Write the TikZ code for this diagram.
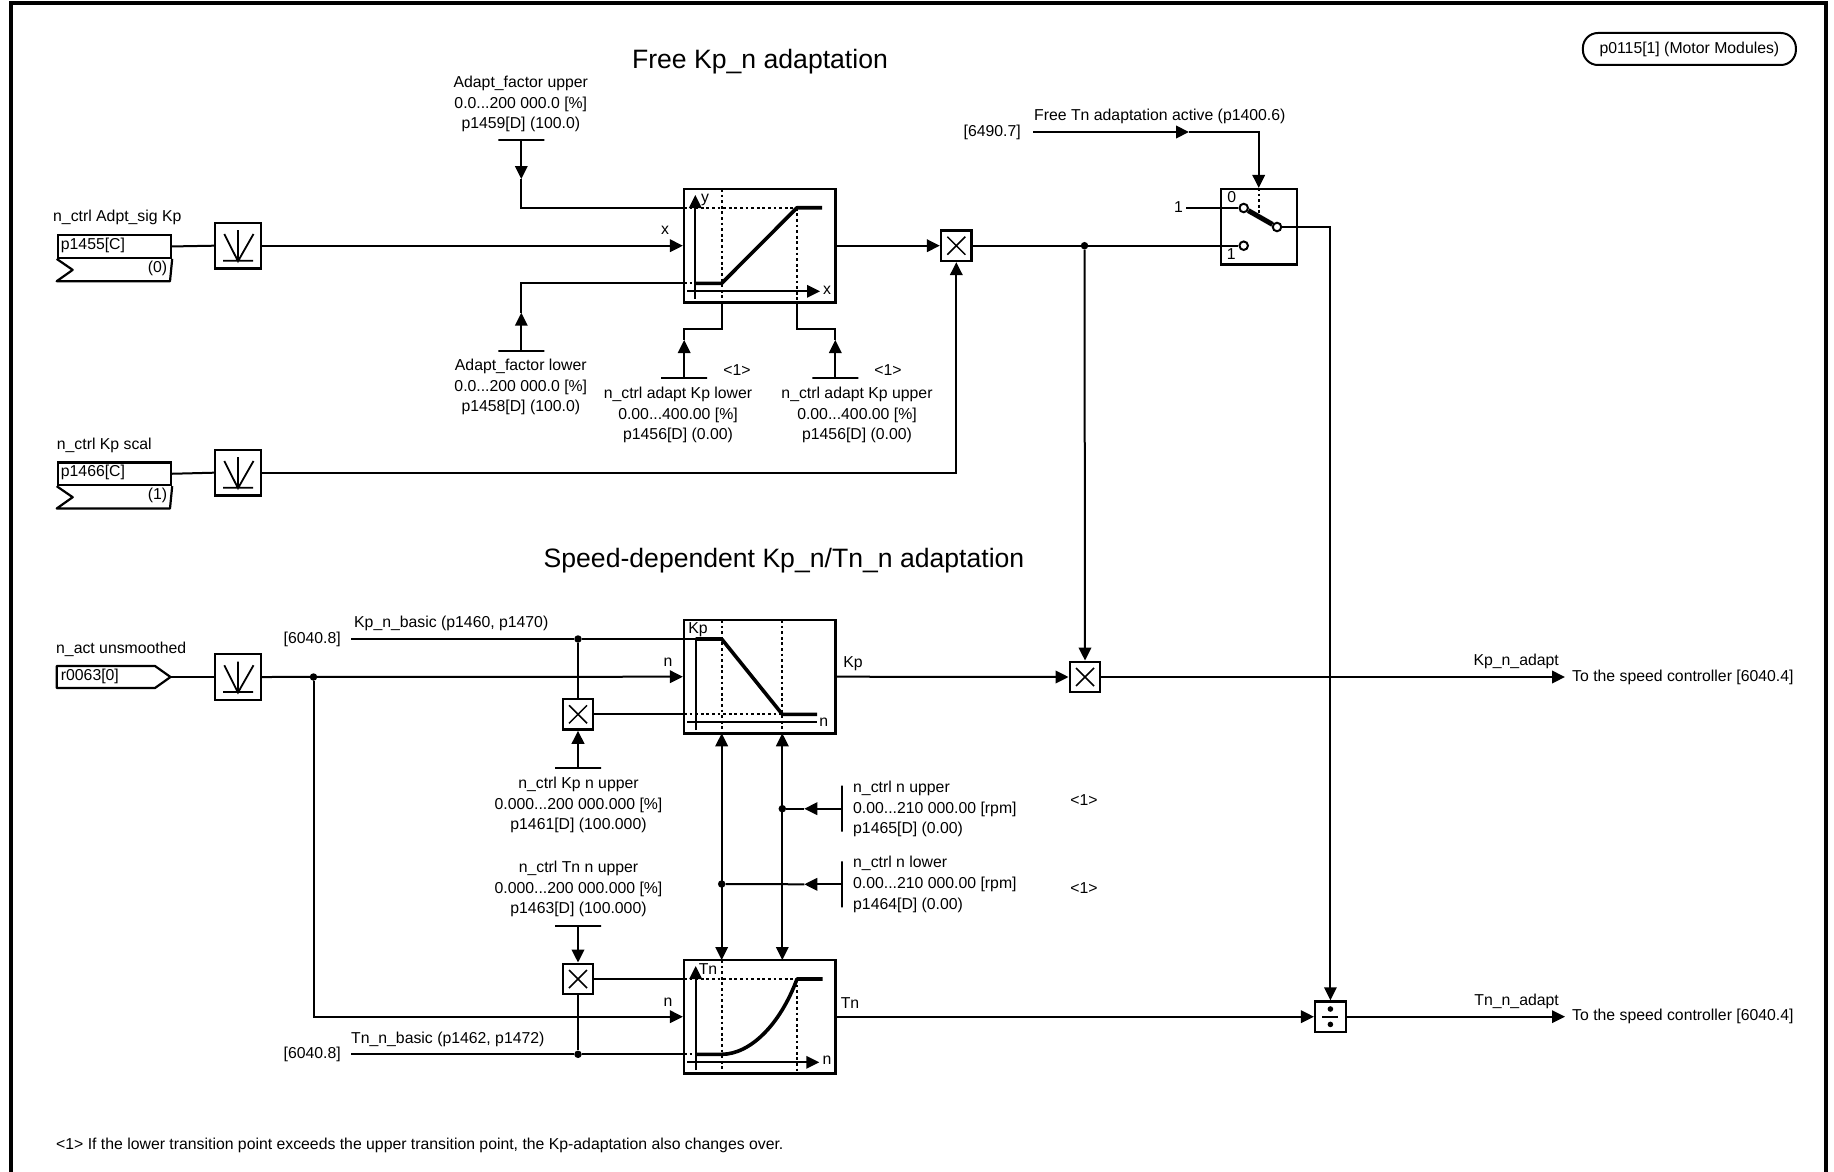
\documentclass[tikz,border=0pt]{standalone}
\usepackage{fontspec}
\setmainfont{Liberation Sans}
\usetikzlibrary{arrows.meta,positioning,calc}
\tikzset{
  lbl/.style={inner sep=0pt, font=\fontsize{15.8}{20.7}\selectfont, text height=11.6pt, text depth=3.4pt},
  stack/.style={inner sep=0pt, align=center, font=\fontsize{15.8}{20.7}\selectfont},
  titlelbl/.style={inner sep=0pt, font=\fontsize{26.6}{30}\selectfont},
  wire/.style={line width=2pt},
  arr/.style={-{Triangle[length=13pt,width=12.5pt]}, line width=2pt},
  dblarr/.style={{Triangle[length=13pt,width=12.5pt]}-{Triangle[length=13pt,width=12.5pt]}, line width=2pt},
  dots/.style={line width=2pt, dash pattern=on 2.8pt off 2.8pt},
  thickline/.style={line width=3.6pt, line join=round},
  fnbox/.style={draw, line width=2.3pt, minimum width=151.3pt, minimum height=113.3pt, inner sep=0pt},
  parbox/.style={draw, line width=2.2pt, minimum width=113.3pt, minimum height=22.7pt, inner sep=0pt},
  ampbox/.style={draw, line width=2.3pt, minimum width=45.7pt, minimum height=45.7pt, inner sep=0pt,
    path picture={\draw[line width=1.8pt]
      ([shift={(-13.7,-11.7)}]path picture bounding box.center) --
      ([shift={(0,15.5)}]path picture bounding box.center) --
      ([shift={(15.5,-11.7)}]path picture bounding box.center)
      ([shift={(0,-15.5)}]path picture bounding box.center) --
      ([shift={(0,15.5)}]path picture bounding box.center)
      ([shift={(-15,15)}]path picture bounding box.center) --
      ([shift={(15,15)}]path picture bounding box.center);}},
  multbox/.style={draw, line width=2.3pt, minimum size=30.6pt, inner sep=0pt,
    path picture={\draw[line width=1.5pt]
      ([shift={(-9,-9)}]path picture bounding box.center) -- ([shift={(9,9)}]path picture bounding box.center)
      ([shift={(-9,9)}]path picture bounding box.center) -- ([shift={(9,-9)}]path picture bounding box.center);}},
  divbox/.style={draw, line width=2.3pt, minimum size=30.6pt, inner sep=0pt,
    path picture={\draw[line width=2pt]
      ([shift={(-8,0)}]path picture bounding box.center) -- ([shift={(8,0)}]path picture bounding box.center);
      \fill ([shift={(0,-7.7)}]path picture bounding box.center) circle (2.8pt)
            ([shift={(0,7.7)}]path picture bounding box.center) circle (2.8pt);}},
  hbar/.style={draw, line width=2pt, minimum width=46pt, minimum height=0pt, inner sep=0pt},
  vbar/.style={draw, line width=2pt, minimum height=46pt, minimum width=0pt, inner sep=0pt},
  junction/.style={circle, fill, minimum size=7.5pt, inner sep=0pt},
  contact/.style={circle, draw, line width=2pt, fill=white, minimum size=8.5pt, inner sep=0pt}}
\begin{document}
\begin{tikzpicture}[x=1pt,y=-1pt]
  \useasboundingbox (0,0) rectangle (1834,1172);
  \draw[line width=3.4pt] (11,1172) -- (11,3) -- (1826,3) -- (1826,1172);
  \node[draw, line width=2pt, rounded corners=15pt, minimum width=213pt, minimum height=32pt, inner sep=0pt,
        font=\fontsize{15.8}{20.7}\selectfont] (drive) at (1689.4,49) {p0115[1] (Motor Modules)};
  \node[titlelbl] (freetitle) at (760,62) {Free Kp\_n adaptation};
  \node[titlelbl] (speedtitle) at (784,561) {Speed-dependent Kp\_n/Tn\_n adaptation};

  % inputs
  \node[lbl, anchor=west] (adptlbl) at (53,217) {n\_ctrl Adpt\_sig Kp};
  \node[parbox, anchor=north west] (sigkp) at (56.7,234) {};
  \node[lbl, anchor=west] at (60.7,245.4) {p1455[C]};
  \node[lbl, anchor=east] (sigzero) at (167.3,268.5) {(0)};
  \draw[line width=2.2pt, line join=round] (sigkp.south west) -- ++(16,11) -- ++(-16,11.3) -- ++(113.3,0) -- (sigkp.south east);
  \node[ampbox] (amp1) at (238,245.7) {};

  \node[lbl, anchor=west] (scallbl) at (56.7,445) {n\_ctrl Kp scal};
  \node[parbox, anchor=north west] (sigscal) at (56.7,461.3) {};
  \node[lbl, anchor=west] at (60.7,472.6) {p1466[C]};
  \node[lbl, anchor=east] (scalone) at (167.3,495.7) {(1)};
  \draw[line width=2.2pt, line join=round] (sigscal.south west) -- ++(16,11) -- ++(-16,11.3) -- ++(113.3,0) -- (sigscal.south east);
  \node[ampbox] (amp2) at (238,472.7) {};

  \node[lbl, anchor=west] (actlbl) at (56,649) {n\_act unsmoothed};
  \coordinate (acttip) at (170.5,677);
  \draw[line width=2.2pt, line join=round] (acttip) -- (155,666) -- (56.7,666) -- (56.7,688) -- (155,688) -- cycle;
  \node[lbl, anchor=west] at (60.7,676.7) {r0063[0]};
  \node[ampbox] (amp3) at (238,677) {};

  % free adaptation
  \node[fnbox] (fcurve) at (759.7,245.7) {};
  \node[multbox] (mult1) at (956.3,245.7) {};
  \coordinate (fhi) at (684,207.7);
  \coordinate (flow) at (684,283.3);
  \draw[wire] (sigkp.east) -- (amp1.west);
  \draw[arr] (amp1.east) -- (fcurve.west);
  \draw[arr] (fcurve.east) -- (mult1.west);
  \draw[wire] (sigscal.east) -- (amp2.west);
  \draw[arr] (amp2.east) -| (mult1.south);

  \node[stack] (factup) at (520.8,104) {Adapt\_factor upper\\0.0...200 000.0 [\%]\\p1459[D] (100.0)};
  \node[hbar] (fbarup) at (521.3,140) {};
  \coordinate (fupm) at (521.3,179);
  \draw[arr] (fbarup.center) -- (fupm);
  \draw[wire] (fupm) |- (fhi);
  \node[stack] (factlo) at (520.8,387) {Adapt\_factor lower\\0.0...200 000.0 [\%]\\p1458[D] (100.0)};
  \node[hbar] (fbarlo) at (521.3,351) {};
  \coordinate (flom) at (521.3,312.7);
  \draw[arr] (fbarlo.center) -- (flom);
  \draw[wire] (flom) |- (flow);

  \draw[dots] (fhi) -- (797,207.7) (flow) -- (721.7,283.3)
    (721.7,189) -- (721.7,302.3) (797,207.7) -- (797,302.3);
  \draw[wire] (695.3,299) -- (695.3,205);
  \draw[arr] (695.3,205) -- (695.3,195);
  \draw[arr] (687.3,291.3) -- (820,291.3);
  \draw[thickline] (695.3,283.3) -- (721.7,283.3) -- (797,207.7) -- (822,207.7);
  \node[lbl] at (705,198) {y};
  \node[lbl] at (827,290) {x};
  \node[lbl] at (665,230) {x};

  \node[hbar] (kplobar) at (684.2,378) {};
  \node[hbar] (kpupbar) at (835.3,378) {};
  \coordinate (kplom) at (684.2,340);
  \coordinate (kpupm) at (835.3,340);
  \draw[arr] (kplobar.center) -- (kplom);
  \draw[arr] (kpupbar.center) -- (kpupm);
  \draw[wire] (kplom) -- (684.2,329) -- (721.7,329) -- (721.7,302.3);
  \draw[wire] (kpupm) -- (835.3,329) -- (797,329) -- (797,302.3);
  \node[lbl] at (737,371) {<1>};
  \node[lbl] at (888,371) {<1>};
  \node[stack] (kplotxt) at (678,415) {n\_ctrl adapt Kp lower\\0.00...400.00 [\%]\\p1456[D] (0.00)};
  \node[stack] (kpuptxt) at (857,415) {n\_ctrl adapt Kp upper\\0.00...400.00 [\%]\\p1456[D] (0.00)};

  % switch
  \node[draw, line width=2.3pt, minimum width=76pt, minimum height=75.3pt, inner sep=0pt] (swbox) at (1258.7,226.7) {};
  \node[contact] (c0) at (1243.7,208) {};
  \node[contact] (c1) at (1243.7,245.7) {};
  \node[contact] (c2) at (1277,227) {};
  \draw[line width=5pt] (c0) -- (c2);
  \node[lbl] at (1231.7,198) {0};
  \node[lbl] at (1231.3,255) {1};
  \node[lbl, anchor=east, inner xsep=3pt] (swone) at (1186,208) {1};
  \draw[wire] (swone.east) -- (c0.west);
  \node[junction] (kpdot) at (1084.5,245.7) {};
  \draw[wire] (mult1.east) -- (kpdot) -- (c1.west);
  \node[lbl, anchor=east, inner xsep=12pt] (tnref) at (1033,132) {[6490.7]};
  \node[lbl, anchor=west] (tnact) at (1034,116) {Free Tn adaptation active (p1400.6)};
  \coordinate (tnm) at (1189,132);
  \draw[arr] (tnref.east) -- (tnm);
  \draw[arr] (tnm) -| (swbox.north);
  \draw[dots] (swbox.north) -- (1258.7,217);

  % speed dependent
  \node[fnbox] (kpcurve) at (759.7,676.7) {};
  \node[fnbox] (tncurve) at (759.7,1016.7) {};
  \node[multbox] (kmult) at (578,714.3) {};
  \node[multbox] (tmult) at (578,979) {};
  \node[multbox] (mult3) at (1085,677) {};
  \node[divbox] (divn) at (1330.4,1016.7) {};
  \node[lbl, anchor=east, inner xsep=10pt] (kpref) at (351,639) {[6040.8]};
  \node[lbl, anchor=east, inner xsep=10pt] (tnrefb) at (351,1054.3) {[6040.8]};
  \node[lbl, anchor=west] at (354,623) {Kp\_n\_basic (p1460, p1470)};
  \node[lbl, anchor=west] at (351,1039) {Tn\_n\_basic (p1462, p1472)};
  \node[junction] (kpjun) at (578,639) {};
  \node[junction] (tnjun) at (578,1054.3) {};
  \node[junction] (njun) at (313.5,677) {};
  \draw[wire] (acttip) -- (amp3.west);
  \draw[arr] (amp3.east) -- (kpcurve.west);
  \draw[arr] (njun) |- (tncurve.west);
  \draw[wire] (kpref.east) -- (kpjun) -- (695.7,639);
  \draw[wire] (kpjun) -- (kmult.north);
  \draw[wire] (kmult.east) -- (684,714.3);
  \draw[wire] (tnrefb.east) -- (tnjun) -- (684,1054.3);
  \draw[wire] (tnjun) -- (tmult.south);
  \draw[wire] (tmult.east) -- (684,979);

  % Kp curve
  \draw[dots] (684,714.3) -- (782.3,714.3) (721.7,620) -- (721.7,733.3) (782.3,620) -- (782.3,733.3);
  \draw[wire] (695.7,730) -- (695.7,639);
  \draw[wire] (687.3,722) -- (816.7,722);
  \draw[thickline] (695.7,639) -- (721.7,639) -- (782.3,714.3) -- (817,714.3);
  \node[lbl] at (698,629) {Kp};
  \node[lbl] at (823.7,722) {n};
  \node[lbl] at (668,662) {n};
  % Tn curve
  \draw[dots] (684,979) -- (797,979) (684,1054.3) -- (695.7,1054.3) (721.7,960) -- (721.7,1073.3) (797,979) -- (797,1073.3);
  \draw[arr] (695.7,1070) -- (695.7,966);
  \draw[arr] (687.3,1062.3) -- (819.3,1062.3);
  \draw[thickline] (695.7,1054.3) -- (721.7,1054.3) .. controls (750,1054.3) and (780,1025) .. (797,979) -- (822.7,979);
  \node[lbl] at (708,970.7) {Tn};
  \node[lbl] at (827,1060.7) {n};
  \node[lbl] at (668,1002) {n};

  \node[stack] (kpntxt) at (578.5,805) {n\_ctrl Kp n  upper\\0.000...200 000.000 [\%]\\p1461[D] (100.000)};
  \node[hbar] (kpnbar) at (578,767.7) {};
  \draw[arr] (kpnbar.center) -- (kmult.south);
  \node[stack] (tnntxt) at (578.5,889) {n\_ctrl Tn n  upper\\0.000...200 000.000 [\%]\\p1463[D] (100.000)};
  \node[hbar] (tnnbar) at (578,926) {};
  \draw[arr] (tnnbar.center) -- (tmult.north);

  % transition points
  \coordinate (kpa) at (721.7,733.3);
  \coordinate (kpb) at (782.3,733.3);
  \coordinate (tna) at (721.7,960);
  \coordinate (tnb) at (782.3,960);
  \draw[dblarr] (kpa) -- (tna);
  \draw[dblarr] (kpb) -- (tnb);
  \node[junction] (upjun) at (782.3,808.7) {};
  \node[junction] (lojun) at (721.7,884) {};
  \node[vbar] (upbar) at (842.3,808.7) {};
  \node[vbar] (lobar) at (842.3,884.3) {};
  \coordinate (upm) at (804.3,808.7);
  \coordinate (lom) at (804.3,884.3);
  \draw[arr] (upbar.center) -- (upm);
  \draw[wire] (upm) -- (upjun);
  \draw[arr] (lobar.center) -- (lom);
  \draw[wire] (lom) -- (lojun);
  \node[stack, align=left, anchor=west] (uptxt) at (853,809) {n\_ctrl n upper\\0.00...210 000.00 [rpm]\\p1465[D] (0.00)};
  \node[stack, align=left, anchor=west] (lotxt) at (853,884.5) {n\_ctrl n lower\\0.00...210 000.00 [rpm]\\p1464[D] (0.00)};
  \node[lbl] at (1084,801) {<1>};
  \node[lbl] at (1084,889) {<1>};

  % outputs
  \node[lbl] at (853,663) {Kp};
  \node[lbl] at (850,1004.6) {Tn};
  \draw[arr] (kpcurve.east) -- (mult3.west);
  \draw[arr] (tncurve.east) -- (divn.west);
  \draw[arr] (kpdot) -- (mult3.north);
  \draw[arr] (c2.east) -| (divn.north);
  \node[lbl, anchor=west, inner xsep=7pt] (tospeed1) at (1565,677) {To the speed controller [6040.4]};
  \node[lbl, anchor=west, inner xsep=7pt] (tospeed2) at (1565,1016.7) {To the speed controller [6040.4]};
  \draw[arr] (mult3.east) -- (tospeed1.west);
  \draw[arr] (divn.east) -- (tospeed2.west);
  \node[lbl, anchor=east] at (1559,661) {Kp\_n\_adapt};
  \node[lbl, anchor=east] at (1559,1001.7) {Tn\_n\_adapt};

  \node[lbl, anchor=west] (footnote) at (56,1145) {<1> If the lower transition point exceeds the upper transition point, the Kp-adaptation also changes over.};
\end{tikzpicture}
\end{document}
